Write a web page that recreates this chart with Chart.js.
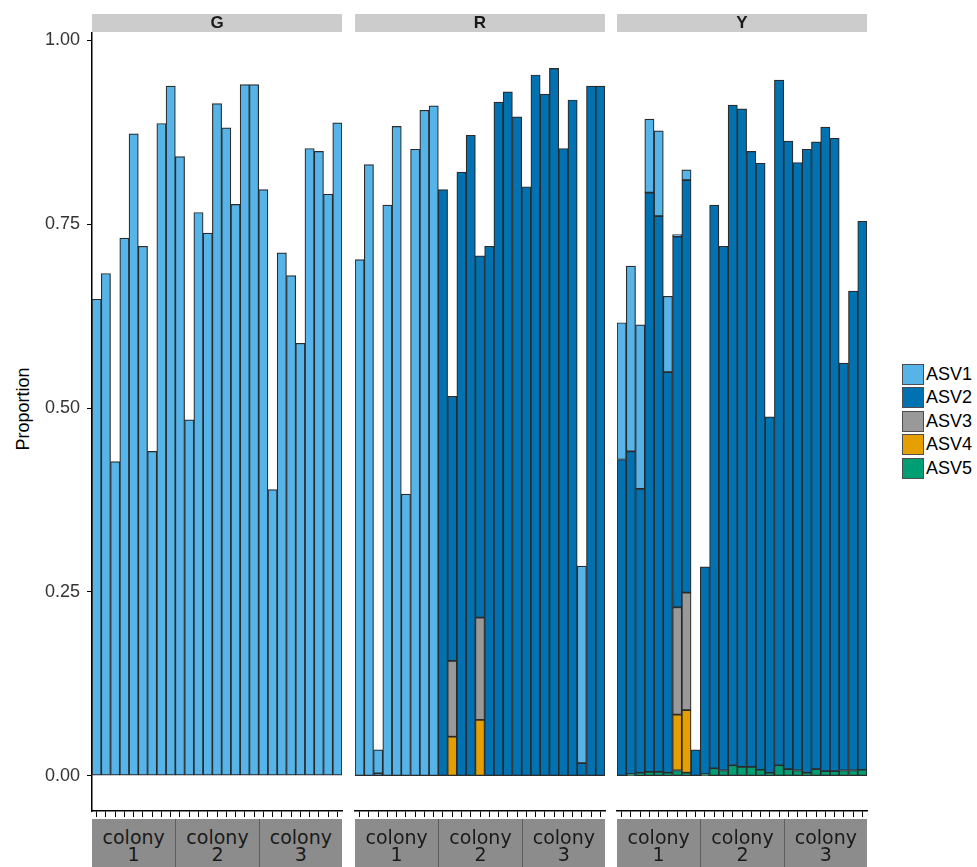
<!DOCTYPE html>
<html>
<head>
<meta charset="utf-8">
<script src="https://cdn.jsdelivr.net/npm/chart.js@4.4.1/dist/chart.umd.min.js"></script>
<style>
  html,body{margin:0;padding:0;background:#fff;}
  body{width:977px;height:867px;position:relative;overflow:hidden;font-family:"Liberation Sans",Arial,sans-serif;}
  .cwrap{position:absolute;top:0;}
  .topstrip{position:absolute;top:14px;height:18px;width:250px;background:#cccccc;text-align:center;font-weight:bold;font-size:17px;line-height:18px;color:#1a1a1a;}
  .botstrip{position:absolute;top:819px;height:48px;background:#8c8c8c;text-align:center;font-family:"DejaVu Sans",sans-serif;font-size:19px;color:#1a1a1a;box-sizing:border-box;}
  .botstrip span{position:absolute;left:0;right:0;top:10px;line-height:17px;}
  .ytitle{position:absolute;left:23px;top:409px;transform:translate(-50%,-50%) rotate(-90deg);font-size:18px;color:#000;white-space:nowrap;}
  .leg{position:absolute;left:902px;}
  .leg .box{position:absolute;left:0;width:22px;height:21px;box-sizing:border-box;border:1.5px solid #4d4d4d;}
  .leg .lab{position:absolute;left:24px;font-size:18px;line-height:21px;color:#000;}
</style>
</head>
<body>
<div class="ytitle">Proportion</div>

<div class="cwrap" style="left:0px;"><canvas id="cG" width="345" height="821"></canvas></div>
<div class="cwrap" style="left:350px;"><canvas id="cR" width="258" height="821"></canvas></div>
<div class="cwrap" style="left:612px;"><canvas id="cY" width="258" height="821"></canvas></div>

<div id="strips"></div>
<div id="legend"></div>

<script>
// ---------- data ----------
const facets = ['G', 'R', 'Y'];
const colonies = ['colony 1', 'colony 2', 'colony 3'];
const samples = ['1','2','3','4','5','6','7','8','9','10','11','12','13','14','15','16','17','18','19','20','21','22','23','24','25','26','27'];
const asvNames = ['ASV1', 'ASV2', 'ASV3', 'ASV4', 'ASV5'];
const asvColors = ['#56B4E9', '#0072B2', '#999999', '#E69F00', '#009E73'];
const yTicks = [0, 0.25, 0.5, 0.75, 1.0];

const G_ASV1 = [0.648,0.683,0.427,0.731,0.873,0.720,0.441,0.887,0.938, 0.842,0.484,0.766,0.738,0.914,0.881,0.777,0.940,0.940, 0.797,0.389,0.711,0.680,0.588,0.853,0.849,0.791,0.888];
const G_ASV2 = [null,null,null,null,null,null,null,null,null, null,null,null,null,null,null,null,null,null, null,null,null,null,null,null,null,null,null];
const G_ASV3 = G_ASV2;
const G_ASV4 = G_ASV2;
const G_ASV5 = G_ASV2;

const R_ASV1 = [0.702,0.831,0.032,0.776,0.883,0.383,0.852,0.905,0.911, null,null,null,null,null,null,null,null,null, null,null,null,null,null,null,0.268,null,null];
const R_ASV2 = [null,null,0.003,null,null,null,null,null,null, 0.797,0.360,0.821,0.871,0.492,0.720,0.916,0.930,0.896, 0.801,0.953,0.927,0.962,0.853,0.919,0.017,0.938,0.938];
const R_ASV3 = [null,null,null,null,null,null,null,null,null, null,0.103,null,null,0.139,null,null,null,null, null,null,null,null,null,null,null,null,null];
const R_ASV4 = [null,null,null,null,null,null,null,null,null, null,0.053,null,null,0.076,null,null,null,null, null,null,null,null,null,null,null,null,null];
const R_ASV5 = G_ASV2;

const Y_ASV1 = [0.186,0.252,0.223,0.100,0.116,0.103,0.003,0.014,null, null,null,null,null,null,null,null,null,null, null,null,null,null,null,null,null,null,null];
const Y_ASV2 = [0.430,0.439,0.386,0.788,0.756,0.545,0.504,0.561,0.035, 0.282,0.766,0.713,0.898,0.895,0.837,0.825,0.484,0.932, 0.854,0.827,0.848,0.853,0.876,0.861,0.554,0.652,0.746];
const Y_ASV3 = [null,null,null,null,null,null,0.146,0.160,null, null,null,null,null,null,null,null,null,null, null,null,null,null,null,null,null,null,null];
const Y_ASV4 = [null,null,null,null,null,null,0.076,0.085,null, null,null,null,null,null,null,null,null,null, null,null,null,null,null,null,null,null,null];
const Y_ASV5 = [null,0.002,0.004,0.005,0.005,0.004,0.007,0.004,null, 0.002,0.010,0.007,0.014,0.012,0.012,0.008,0.004,0.014, 0.009,0.007,0.004,0.009,0.006,0.006,0.007,0.007,0.008];

const facetSeries = {
  G: [G_ASV1, G_ASV2, G_ASV3, G_ASV4, G_ASV5],
  R: [R_ASV1, R_ASV2, R_ASV3, R_ASV4, R_ASV5],
  Y: [Y_ASV1, Y_ASV2, Y_ASV3, Y_ASV4, Y_ASV5]
};

// ---------- charts ----------
function makeChart(id, facet, showY) {
  const series = facetSeries[facet];
  const datasets = [];
  // bottom of stack first: ASV5 ... ASV1
  for (let i = asvNames.length - 1; i >= 0; i--) {
    datasets.push({
      label: asvNames[i],
      data: series[i],
      backgroundColor: asvColors[i],
      borderColor: '#2b2b2b',
      borderWidth: 1.2,
      borderSkipped: false,
      barPercentage: 1,
      categoryPercentage: 1
    });
  }
  return new Chart(document.getElementById(id), {
    type: 'bar',
    data: { labels: samples, datasets },
    options: {
      responsive: false,
      animation: false,
      events: [],
      layout: { padding: { top: 33, left: showY ? 0 : 5, right: 3, bottom: 0 } },
      plugins: { legend: { display: false }, tooltip: { enabled: false }, title: { display: false } },
      scales: {
        x: {
          stacked: true,
          offset: true,
          grid: { display: true, drawOnChartArea: false, drawTicks: true, tickLength: 6, color: '#000', offset: false, lineWidth: 1 },
          border: { display: true, color: '#000', width: 1.5 },
          ticks: { display: false },
          afterFit(s) { s.height = 10; s.paddingLeft = 0; s.paddingRight = 0; }
        },
        y: {
          stacked: true,
          display: showY,
          min: -0.0481,
          max: 1.0101,
          afterBuildTicks(s) { s.ticks = yTicks.map(v => ({ value: v })); },
          grid: { display: true, drawOnChartArea: false, drawTicks: true, tickLength: 5, color: '#000', lineWidth: 1 },
          border: { display: true, color: '#000', width: 1.5 },
          ticks: {
            callback: v => Number(v).toFixed(2),
            color: '#333',
            padding: 7,
            font: { family: 'Liberation Sans', size: 18 }
          },
          afterFit(s) { s.width = showY ? 92 : 0; s.paddingTop = 0; s.paddingBottom = 0; }
        }
      }
    }
  });
}

makeChart('cG', 'G', true);
makeChart('cR', 'R', false);
makeChart('cY', 'Y', false);

// ---------- facet strips ----------
const panelLeft = { G: 92, R: 355, Y: 617 };
const stripsEl = document.getElementById('strips');
facets.forEach(f => {
  const t = document.createElement('div');
  t.className = 'topstrip';
  t.style.left = panelLeft[f] + 'px';
  t.textContent = f;
  stripsEl.appendChild(t);
  const w = 250 / colonies.length;
  colonies.forEach((c, j) => {
    const b = document.createElement('div');
    b.className = 'botstrip';
    b.style.left = (panelLeft[f] + j * w) + 'px';
    b.style.width = w + 'px';
    if (j > 0) b.style.borderLeft = '1px solid #5e5e5e';
    const parts = c.split(' ');
    const sp = document.createElement('span');
    sp.innerHTML = parts[0] + '<br>' + parts[1];
    b.appendChild(sp);
    stripsEl.appendChild(b);
  });
});

// ---------- legend ----------
const legEl = document.getElementById('legend');
const legTops = [364, 387, 411, 434, 458];
asvNames.forEach((n, i) => {
  const d = document.createElement('div');
  d.className = 'leg';
  d.style.top = legTops[i] + 'px';
  d.innerHTML = '<div class="box" style="background:' + asvColors[i] + '"></div><div class="lab">' + n + '</div>';
  legEl.appendChild(d);
});
</script>
</body>
</html>
